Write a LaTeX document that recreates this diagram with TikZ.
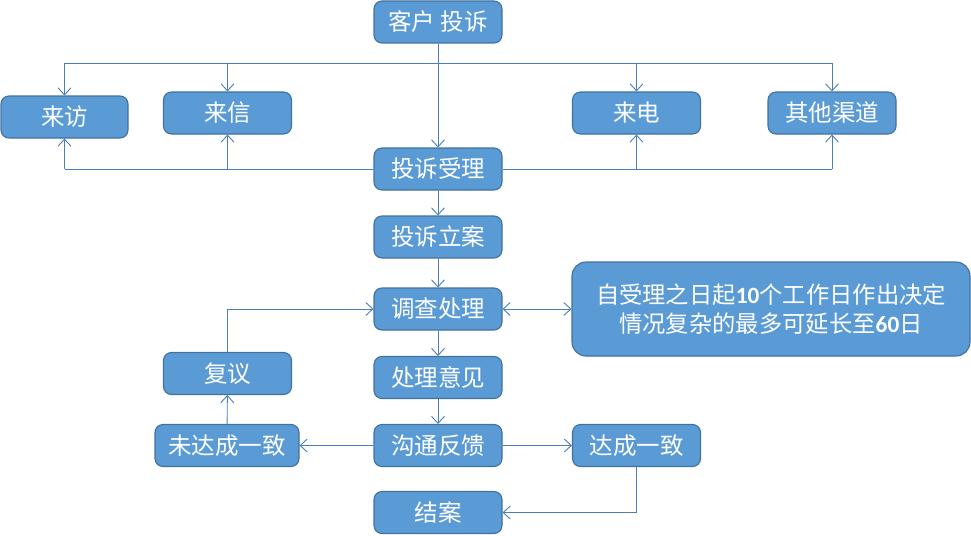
\documentclass[tikz,border=0pt]{standalone}
\usepackage{fontspec}
\newfontfamily\cjk{Noto Sans CJK SC}
\newfontfamily\latnum{Carlito}
\usetikzlibrary{arrows.meta}
\definecolor{boxfill}{HTML}{5B9BD5}
\definecolor{boxline}{HTML}{41719C}
\definecolor{lineblue}{HTML}{4A7EBB}
\begin{document}
\begin{tikzpicture}[x=1pt,y=-1pt,
  box/.style={draw=boxline, fill=boxfill, rounded corners=8pt, line width=1.1pt,
    text=white, font=\cjk\fontsize{23.5}{26}\selectfont, inner sep=0pt,
    minimum width=128pt, minimum height=42pt},
  wire/.style={draw=lineblue, line width=0.9pt},
  conn/.style={wire, -{Straight Barb[length=7pt,width=13pt]}},
  dconn/.style={wire, {Straight Barb[length=7pt,width=13pt]}-{Straight Barb[length=7pt,width=13pt]}}]
\useasboundingbox (0,0) rectangle (971,535);
% nodes
\node[box] (kh) at (438,22) {客户 投诉};
\node[box, minimum width=127pt] (lf) at (64.5,117) {来访};
\node[box] (lx) at (227.5,113) {来信};
\node[box] (ld) at (636.5,113) {来电};
\node[box] (qt) at (832,113) {其他渠道};
\node[box] (sl) at (438,169) {投诉受理};
\node[box] (la) at (438,237) {投诉立案};
\node[box] (dc) at (438,309) {调查处理};
\node[box] (yj) at (438,377.5) {处理意见};
\node[box] (gt) at (438,445.5) {沟通反馈};
\node[box] (ja) at (438,512.5) {结案};
\node[box] (fy) at (227.5,373.5) {复议};
\node[box, minimum width=144pt] (wd) at (227,445.5) {未达成一致};
\node[box] (dd) at (636.5,445.5) {达成一致};
\node[box, minimum width=398pt, minimum height=94pt, rounded corners=14pt,
      align=center, font=\cjk\fontsize{23.3}{29}\selectfont] (big) at (771,309)
  {自受理之日起{\latnum\bfseries 10}个工作日作出决定\\情况复杂的最多可延长至{\latnum\bfseries 60}日};
% top distribution
\coordinate (tl) at (438,63);
\draw[wire] (lf.north |- tl) -- (qt.north |- tl);
\draw[conn] (lf.north |- tl) -- (lf.north);
\draw[conn] (lx.north |- tl) -- (lx.north);
\draw[conn] (ld.north |- tl) -- (ld.north);
\draw[conn] (qt.north |- tl) -- (qt.north);
\draw[conn] (kh) -- (sl);
% from acceptance back to channels
\draw[wire] (sl.west) -- (lf.south |- sl.west);
\draw[conn] (lf.south |- sl.west) -- (lf.south);
\draw[conn] (lx.south |- sl.west) -- (lx.south);
\draw[wire] (sl.east) -- (qt.south |- sl.east);
\draw[conn] (ld.south |- sl.east) -- (ld.south);
\draw[conn] (qt.south |- sl.east) -- (qt.south);
% main flow
\draw[conn] (sl) -- (la);
\draw[conn] (la) -- (dc);
\draw[conn] (dc) -- (yj);
\draw[conn] (yj) -- (gt);
\draw[dconn] (dc) -- (big);
\draw[conn] (gt) -- (wd);
\draw[conn] (gt) -- (dd);
\draw[conn] (wd) -- (fy);
\draw[conn] (fy.north) |- (dc.west);
\draw[conn] (dd.south) |- (ja.east);
\end{tikzpicture}
\end{document}
